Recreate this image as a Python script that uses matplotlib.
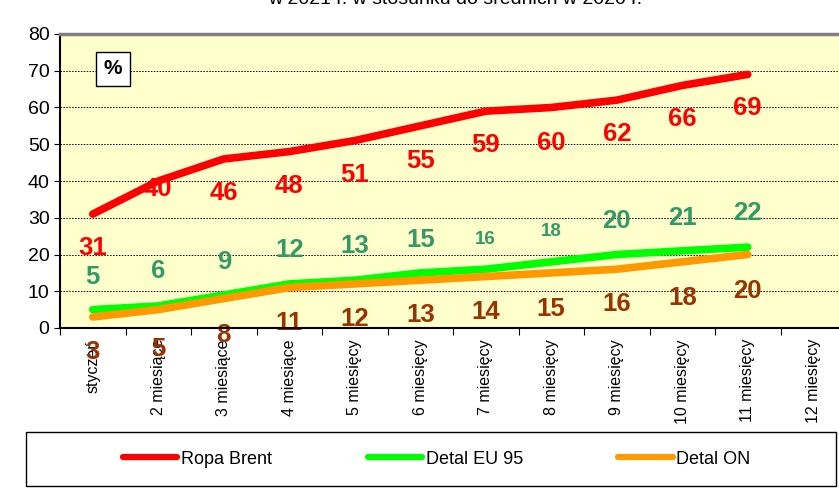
import matplotlib.pyplot as plt
from matplotlib.patches import Rectangle

plt.rcParams['font.family'] = ['Liberation Sans', 'DejaVu Sans']

months = ['styczeń', '2 miesiące', '3 miesiące', '4 miesiące', '5 miesięcy',
          '6 miesięcy', '7 miesięcy', '8 miesięcy', '9 miesięcy',
          '10 miesięcy', '11 miesięcy', '12 miesięcy']
brent = [31, 40, 46, 48, 51, 55, 59, 60, 62, 66, 69]
eu95 = [5, 6, 9, 12, 13, 15, 16, 18, 20, 21, 22]
on = [3, 5, 8, 11, 12, 13, 14, 15, 16, 18, 20]

# label offsets in pixels (labels were moved by hand in the original)
brent_off = [-34, -8, -34, -34, -34, -35, -34, -35, -34, -34, -34]
eu_off = [33, 35, 33, 34, 34, 33, 30, 30, 34, 33, 34]
on_off = [-35, -39, -36, -35, -35, -35, -35, -36, -35, -36, -36]

fig = plt.figure(figsize=(8.39, 4.91), dpi=100)
ax = fig.add_axes([60/839, 163/491, 786/839, 294/491])
ax.set_facecolor('#FFFFCC')

x = list(range(len(brent)))
ax.plot(x, brent, color='#FF0000', lw=5.5, solid_capstyle='round', zorder=3)
ax.plot(x, eu95, color='#00FF00', lw=5.5, solid_capstyle='round', zorder=3)
ax.plot(x, on, color='#FF9900', lw=5.5, solid_capstyle='round', zorder=3)

for i in x:
    ax.annotate(str(brent[i]), (i, brent[i]), xytext=(0, brent_off[i]),
                textcoords='offset pixels', ha='center', va='center',
                color='#FF0000', fontsize=18.5, fontweight='bold', zorder=4)
    fs = 13.5 if eu95[i] in (16, 18) else 18.5
    ax.annotate(str(eu95[i]), (i, eu95[i]), xytext=(0, eu_off[i]),
                textcoords='offset pixels', ha='center', va='center',
                color='#339966', fontsize=fs, fontweight='bold', zorder=4)
    ax.annotate(str(on[i]), (i, on[i]), xytext=(0, on_off[i]),
                textcoords='offset pixels', ha='center', va='center',
                color='#993300', fontsize=18.5, fontweight='bold', zorder=2,
                annotation_clip=False)

ax.set_xlim(-0.5, 11.5)
ax.set_ylim(0, 80)
ax.set_yticks(range(0, 81, 10))
ax.tick_params(axis='y', labelsize=14, length=4, direction='out')
ax.set_xticks([i + 0.5 for i in range(-1, 12)], minor=False)
ax.set_xticklabels([])
ax.set_xticks(range(12), minor=True)
ax.set_xticklabels(months, minor=True, rotation=90, fontsize=11.5)
ax.tick_params(axis='x', which='minor', length=0, pad=8)
ax.tick_params(axis='x', which='major', length=5)
ax.grid(axis='y', color='black', linestyle=(0, (1.5, 1.5)), lw=0.7)
ax.spines['top'].set_color('#808080')
ax.spines['top'].set_linewidth(2.5)
ax.spines['left'].set_linewidth(1.5)
ax.spines['bottom'].set_linewidth(1.5)
ax.spines['right'].set_visible(False)

ax.text(113/839, (491-69)/491, '%', transform=fig.transFigure, ha='center',
        va='center', fontsize=15, fontweight='bold',
        bbox=dict(boxstyle='square,pad=0.35', fc='white', ec='black', lw=1))

fig.text(455/839, 1.0, 'w 2021 r. w stosunku do średnich w 2020 r.',
         ha='center', va='center', fontsize=14)

fig.patches.append(Rectangle((26/839, 5/491), 810/839, 54/491,
                             transform=fig.transFigure, fc='white',
                             ec='black', lw=1))
handles = ax.get_lines()
leg = fig.legend(handles, ['Ropa Brent', 'Detal EU 95', 'Detal ON'],
                 loc='center left', bbox_to_anchor=(107/839, 32/491), ncol=3,
                 frameon=False, fontsize=13, handlelength=3.0,
                 columnspacing=5.3, handletextpad=0.2)
for h in leg.get_lines():
    h.set_linewidth(4.5)

fig.savefig('out.png', dpi=100)
